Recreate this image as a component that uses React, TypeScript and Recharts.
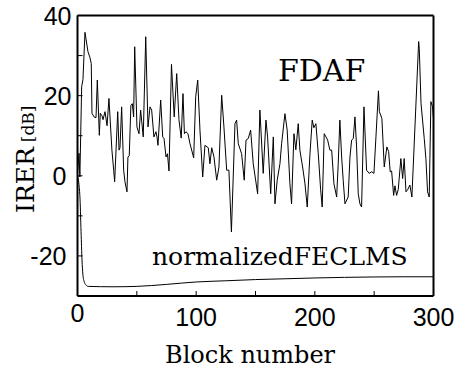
import { CartesianGrid, Line, LineChart, XAxis, YAxis } from "recharts";

// IRER curves, x = block number, y = dB
const fdafBlocks = [
  0, 1.3, 2, 3.5, 4.6, 6.3, 8.8, 10.5, 11.6, 12.2, 13.9, 15.6, 16.7, 18.4, 19.2, 20.6, 21.5, 23.2, 24.9, 26.5,
  29, 30.5, 31.3, 33.9, 35, 35.8, 37.2, 38.9, 40, 41.7, 42.5, 43.6, 45, 46.2, 47.3, 48.2, 50.1, 51.8, 53.2, 55.4,
  57.5, 59.4, 61.1, 62.5, 64.4, 66.1, 67, 67.8, 70.1, 71.8, 72.9, 74.6, 75.8, 77.1, 79.2, 81.5, 83.6, 85.5, 87.4, 88.9,
  90.1, 91.4, 93.1, 94.8, 97.9, 99.6, 101.3, 103.2, 105.5, 107.4, 110.2, 111.6, 113.1, 115, 117.3, 119.2, 121.5, 123.4, 125.7, 127.6,
  129.7, 132.7, 134.1, 135.5, 138.3, 140.5, 142, 143.9, 145.9, 148.1, 151.8, 153.7, 156.5, 158.8, 160.2, 162.8, 165, 166.4, 168.3, 170.6,
  172, 174.8, 176.7, 179, 180.4, 182.4, 184, 186, 187.4, 189.7, 191.7, 193.6, 195.9, 197.8, 199.2, 200.9, 202.9, 204.9, 206.2, 207.9,
  209.4, 210.8, 212.7, 214.2, 216.1, 218.4, 219.7, 221.1, 222.6, 223.9, 225.4, 228.1, 229.6, 231, 232.4, 233.8, 235.2, 236.6, 238, 239.4,
  241.4, 243.6, 245.8, 247.9, 249.8, 251.5, 253.6, 254.4, 256.5, 258.5, 260.7, 262.2, 263.5, 264.7, 266.4, 267.5, 268.9, 270.3, 272.5, 274,
  275.3, 276.8, 278.2, 280.1, 281.8, 287.5, 288, 289.5, 292.2, 293.6, 295, 296.4, 297.8, 299.2, 300,
];
const fdafIRER = [
  0.6, 5.6, -0.3, 22.2, 24, 35.8, 31, 29.5, 28, 15.6, 14.7, 14.5, 23.9, 10.1, 15.6, 15, 14, 16, 12.5, 19.3,
  6.4, 1.4, -1.5, 16, 6.4, 7, 17.2, 1.4, -1.5, -4, 4.7, 5, 17.6, 18, 14.7, 32.2, 12.2, 10.5, 16.4, 9.7,
  34.7, 12.2, 17.2, 16.4, 9.7, 11, 9.7, 7.6, 18.9, 9.7, 9.3, 4.7, 5.5, 1.2, 27.8, 14.7, 25.5, 14, 9.4, 20.5,
  10.5, 11, 10.5, 8, 4.5, 19.7, 23.9, 11.4, -0.3, 7.6, 7, 3, 7, 4.7, -1.1, 2.2, 20.1, 12.2, 1.4, 1.4,
  -14, 13, 13.9, 8, 5.5, -1.1, 8.9, 9.3, 11.4, 3, -4.5, 16.4, 0.6, 13.9, 9.7, -4.5, 9.7, -7, -1.1, 3,
  8, 15.5, 11.4, -2, -7, 10.5, 6.5, 13, 6.4, 2.2, -2, -7.8, 5.5, 13.9, 12, 13, 5.5, -3.5, -7.8, 10.5,
  9.7, 8.9, 6.4, 6.4, -2, -5.3, 3, 13.9, 4.7, -1.1, -7, -5.3, 4.7, 8.9, 9.3, 14.7, 7.2, -4.5, -7, -7.8,
  17.2, 1.4, 0.6, 1, 0.6, 9.7, 21.2, 16, 14.3, 2.2, 7.2, 6, 1, 1.2, -4.9, -2.5, -4.9, -3.4, 4.3, -0.7,
  4.3, -4, -3.5, -2.3, -5.3, 33.5, 31.8, 18, 9.3, 4.3, -4, -5.3, 18.5, 17.2, 14.3,
];

const nlmsBlocks = [0, 2, 3, 3.8, 4.5, 5.5, 7, 9, 30, 50, 75, 100, 125, 150, 175, 200, 225, 250, 275, 300];
const nlmsIRER = [0, -5, -14, -21, -24.5, -26.3, -27.2, -27.6, -27.7, -27.6, -27.1, -26.5, -26.2, -25.9, -25.7, -25.5, -25.35, -25.25, -25.2, -25.2];

const xTicks = [0, 50, 100, 150, 200, 250, 300];
const xLabelled = [0, 100, 200, 300];
const yTicks = [-30, -20, -10, 0, 10, 20, 30, 40];
const yLabelled = [-20, 0, 20, 40];

const fdafData = fdafBlocks.map((b, i) => ({ block: b, irer: fdafIRER[i] }));
const nlmsData = nlmsBlocks.map((b, i) => ({ block: b, irer: nlmsIRER[i] }));

const SANS = "'Liberation Sans', Arial, sans-serif";
const SERIF = "'DejaVu Serif', serif";

function XTick(props: any) {
  const v = props.payload.value;
  if (!xLabelled.includes(v)) return null;
  return (
    <text x={props.x} y={props.y + 30 - (v === 0 ? 4 : 0)} textAnchor="middle" fontFamily={SANS} fontSize={25} fill="#000">
      {v}
    </text>
  );
}

function YTick(props: any) {
  const v = props.payload.value;
  if (!yLabelled.includes(v)) return null;
  // the lower two labels sit a little further left in the original
  const shift = v <= 0 ? 5 : 0;
  return (
    <text x={props.x - 6 - shift} y={props.y + 9} textAnchor="end" fontFamily={SANS} fontSize={25} fill="#000">
      {v}
    </text>
  );
}

export default function App() {
  const axisLine = { stroke: "#000", strokeWidth: 2 };
  const tickLine = { stroke: "#000", strokeWidth: 1 };
  return (
    <div style={{ position: "absolute", left: 0, top: 0, width: 465, height: 372, background: "#fff" }}>
      <LineChart width={465} height={372} margin={{ top: 0, right: 0, bottom: 0, left: 0 }}>
        <CartesianGrid stroke="none" />
        <XAxis
          xAxisId="bottom"
          type="number"
          dataKey="block"
          domain={[0, 300]}
          ticks={xTicks}
          height={76}
          axisLine={axisLine}
          tickLine={tickLine}
          tickSize={-5}
          tickMargin={5}
          tick={<XTick />}
          interval={0}
          allowDuplicatedCategory={false}
        />
        <XAxis
          xAxisId="top"
          orientation="top"
          type="number"
          domain={[0, 300]}
          ticks={xTicks}
          height={15.5}
          axisLine={axisLine}
          tickLine={tickLine}
          tickSize={-5}
          tick={false}
        />
        <YAxis
          yAxisId="left"
          type="number"
          domain={[-30, 40]}
          ticks={yTicks}
          width={77.5}
          axisLine={axisLine}
          tickLine={tickLine}
          tickSize={-5}
          tickMargin={5}
          tick={<YTick />}
          interval={0}
        />
        <YAxis
          yAxisId="right"
          orientation="right"
          type="number"
          domain={[-30, 40]}
          ticks={yTicks}
          width={31.5}
          axisLine={axisLine}
          tickLine={tickLine}
          tickSize={-5}
          tick={false}
        />
        <Line
          xAxisId="bottom"
          yAxisId="left"
          data={fdafData}
          dataKey="irer"
          type="linear"
          stroke="#000"
          strokeWidth={1}
          dot={false}
          isAnimationActive={false}
        />
        <Line
          xAxisId="bottom"
          yAxisId="left"
          data={nlmsData}
          dataKey="irer"
          type="monotone"
          stroke="#000"
          strokeWidth={1}
          dot={false}
          isAnimationActive={false}
        />
      </LineChart>
      <svg width={465} height={372} style={{ position: "absolute", left: 0, top: 0, pointerEvents: "none" }}>
        <text x={278} y={81} fontFamily={SERIF} fontSize={30} fill="#000">
          FDAF
        </text>
        <text x={152} y={265} fontFamily={SERIF} fontSize={25} fill="#000">
          normalizedFECLMS
        </text>
        <text x={165} y={363} fontFamily={SERIF} fontSize={24} fill="#000">
          Block number
        </text>
        <text transform="translate(34,213) rotate(-90)" fontFamily={SERIF} fill="#000">
          <tspan fontSize={25}>IRER</tspan>
          <tspan fontSize={17} dx={5}>
            [dB]
          </tspan>
        </text>
      </svg>
    </div>
  );
}
